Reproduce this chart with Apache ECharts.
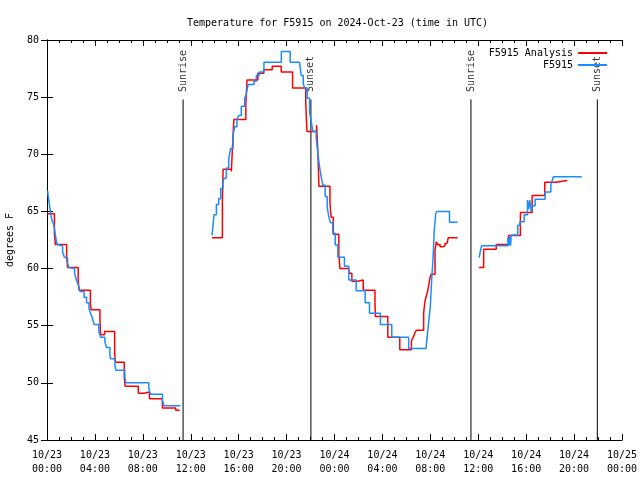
<!DOCTYPE html>
<html><head><meta charset="utf-8">
<script src="https://cdn.jsdelivr.net/npm/echarts@6/dist/echarts.min.js"></script>
<style>html,body{margin:0;padding:0;background:#fff}#c{width:640px;height:480px}</style>
</head><body><div id="c"></div>
<script>
const titleText = 'Temperature for F5915 on 2024-Oct-23 (time in UTC)';
const seriesNames = ['F5915 Analysis', 'F5915'];
const yAxisName = 'degrees F';
const xTickLabels = ['10/23\n00:00','10/23\n04:00','10/23\n08:00','10/23\n12:00','10/23\n16:00','10/23\n20:00',
  '10/24\n00:00','10/24\n04:00','10/24\n08:00','10/24\n12:00','10/24\n16:00','10/24\n20:00','10/25\n00:00'];
const sunEventHours = [11.36, 22.03, 35.39, 45.94];
const sunEventLabels = ['Sunrise', 'Sunset', 'Sunrise', 'Sunset'];
const sunLineTop = 74.8;
const sunLabelBase = 75.45;

// hours since 10/23 00:00 UTC, temperature F
const analysisSeg1 = [[0.0,64.8],[0.62,63.0],[0.7,62.1],[1.64,61.0],[1.72,60.1],[2.6,59.0],[2.68,58.1],[3.62,57.0],[3.68,56.4],
  [4.42,55.5],[4.47,54.2],[4.8,54.5],[5.65,52.5],[5.72,51.8],[6.45,50.5],[6.52,49.7],[7.62,49.1],[8.1,49.2],[8.55,48.6],
  [9.63,47.8],[10.75,47.6],[11.08,47.6]];
const analysisSeg2 = [[13.78,62.7],[14.64,66.0],[14.7,68.7],[15.39,68.5],[15.5,71.0],[15.6,73.05],[16.6,74.5],[16.7,76.5],
  [17.6,77.1],[18.1,77.4],[18.8,77.7],[19.55,77.2],[20.5,75.8],[21.6,74.5],[21.7,72.0],[22.5,72.55],[22.62,70.0],[22.7,67.2],
  [23.62,65.7],[23.72,64.5],[23.9,63.0],[24.36,61.3],[24.45,60.0],[25.2,59.6],[25.45,58.9],[25.94,59.0],[26.4,58.1],
  [27.38,56.8],[27.42,55.8],[28.45,54.0],[29.45,52.9],[30.42,53.7],[30.58,54.0],[30.72,54.4],[30.83,54.6],[31.44,56.1],
  [31.56,57.2],[31.72,57.8],[31.83,58.3],[31.97,59.2],[32.06,59.5],[32.39,61.6],[32.5,62.35],[32.61,62.1],[32.81,61.9],
  [33.03,62.0],[33.22,62.2],[33.39,62.3],[33.5,62.7],[34.28,62.7]];
const analysisSeg3 = [[36.05,60.1],[36.45,61.7],[37.5,62.1],[38.52,62.9],[39.52,64.9],[40.5,66.4],[41.55,67.55],[42.48,67.7],[43.44,67.7]];

const observedSeg1 = [[0.05,66.8],[0.12,66.2],[0.2,65.6],[0.28,65.1],[0.36,64.5],[0.45,64.1],[0.55,63.9],[0.65,63.3],[0.75,62.6],
  [0.85,62.1],[0.95,62.0],[1.3,61.5],[1.44,61.0],[1.6,60.9],[1.72,60.5],[1.82,60.1],[1.95,60.0],[2.3,59.6],[2.45,59.0],
  [2.6,58.6],[2.75,58.0],[3.1,57.5],[3.3,57.0],[3.5,56.5],[3.64,56.1],[3.8,55.6],[3.94,55.1],[4.33,54.5],[4.47,54.0],
  [4.83,53.6],[4.97,53.1],[5.25,52.5],[5.3,52.1],[5.67,51.5],[5.75,51.1],[6.5,50.5],[6.58,50.0],[8.5,49.5],[8.64,49.0],
  [9.64,48.5],[9.75,48.0],[11.14,48.0]];
const observedSeg2 = [[13.78,62.9],[13.94,64.7],[14.14,65.6],[14.33,66.1],[14.5,67.0],[14.69,67.6],[14.78,67.9],[14.97,68.8],
  [15.17,69.65],[15.33,70.5],[15.53,71.7],[15.67,72.4],[15.86,73.0],[16.0,73.4],[16.22,74.2],[16.5,74.9],[16.64,75.25],
  [16.78,76.1],[17.28,76.4],[17.47,76.9],[17.72,77.2],[18.11,78.05],[19.56,79.0],[20.3,78.05],[21.08,77.9],[21.22,76.9],
  [21.39,76.2],[21.5,75.8],[21.72,74.9],[21.92,73.7],[22.06,72.85],[22.19,72.0],[22.33,72.0],[22.47,71.5],[22.61,70.1],
  [22.75,68.9],[22.89,68.0],[23.03,67.3],[23.22,66.3],[23.39,65.4],[23.53,64.5],[23.67,64.0],[23.86,63.1],[24.06,62.06],
  [24.28,61.0],[24.83,60.2],[25.19,59.0],[25.81,58.06],[26.56,57.0],[26.92,56.1],[27.83,55.1],[28.78,54.0],[30.19,53.0],
  [31.64,53.0],[31.78,54.5],[31.89,55.6],[32.0,56.7],[32.11,59.0],[32.22,60.75],[32.33,63.4],[32.45,64.8],[32.56,65.0],
  [33.6,64.05],[34.28,64.05]];
const observedSeg3 = [[36.08,60.95],[36.17,61.5],[36.28,62.0],[38.47,62.7],[38.55,62.0],[38.62,62.8],[38.7,62.0],[38.75,62.94],
  [39.3,63.8],[39.47,64.1],[39.83,64.7],[40.11,66.0],[40.2,65.2],[40.3,66.0],[40.42,65.0],[40.55,65.5],[40.75,66.06],
  [41.58,66.7],[42.06,67.3],[42.19,67.75],[42.28,68.04],[44.64,68.04]];

const GAP = '-';
function joinSegs(segs) {
  const out = [];
  segs.forEach((s, i) => {
    if (i) { const prev = segs[i - 1]; out.push([prev[prev.length - 1][0], GAP]); }
    s.forEach(p => out.push(p));
  });
  return out;
}

const FONT = 'DejaVu Sans Mono';
const chart = echarts.init(document.getElementById('c'), null, { renderer: 'canvas' });

const axisCommonX = {
  type: 'value', min: 0, max: 48, interval: 4,
  axisLine: { show: true, lineStyle: { color: '#000', width: 1 } },
  axisTick: { show: true, inside: true, length: 6, lineStyle: { color: '#000' } },
  minorTick: { show: true, splitNumber: 4, length: 3, lineStyle: { color: '#000' } },
  splitLine: { show: false }, minorSplitLine: { show: false }
};
const axisCommonY = {
  type: 'value', min: 45, max: 80, interval: 5,
  axisLine: { show: true, lineStyle: { color: '#000', width: 1 } },
  axisTick: { show: true, inside: true, length: 6, lineStyle: { color: '#000' } },
  splitLine: { show: false }
};

const sunLineSeries = sunEventHours.map((h, i) => ({
  type: 'line', silent: true, symbol: 'none', animation: false,
  data: [[h, 45], [h, sunLineTop]],
  lineStyle: { color: '#000', width: 1 }, z: 1
}));

const sunLabelSeries = {
  type: 'scatter', silent: true, animation: false, symbolSize: 0,
  data: sunEventHours.map((h, i) => [h, sunLabelBase, sunEventLabels[i]]),
  label: {
    show: true, position: [0, 0], rotate: 90, align: 'left', verticalAlign: 'middle',
    formatter: p => p.data[2], fontFamily: FONT, fontSize: 10, color: '#000'
  }
};

chart.setOption({
  animation: false,
  backgroundColor: '#fff',
  title: { text: titleText, left: 182, top: 13, textStyle: { fontFamily: FONT, fontSize: 10, fontWeight: 'normal', color: '#000' } },
  legend: {
    orient: 'vertical', right: 28, top: 43, align: 'right', itemGap: 2,
    itemWidth: 29, itemHeight: 2, icon: 'rect',
    data: seriesNames,
    textStyle: { fontFamily: FONT, fontSize: 10, color: '#000' }
  },
  grid: { left: 47, right: 18, top: 40, bottom: 40, containLabel: false, outerBoundsMode: 'none' },
  xAxis: [
    Object.assign({}, axisCommonX, { position: 'bottom',
      axisLabel: { color: '#000', fontFamily: FONT, fontSize: 10, lineHeight: 14, margin: 8,
        formatter: v => xTickLabels[Math.round(v / 4)] } }),
    Object.assign({}, axisCommonX, { position: 'top', axisLabel: { show: false } })
  ],
  yAxis: [
    Object.assign({}, axisCommonY, { position: 'left', name: yAxisName, nameLocation: 'middle', nameGap: 32,
      nameTextStyle: { fontFamily: FONT, fontSize: 10, color: '#000' },
      axisLabel: { color: '#000', fontFamily: FONT, fontSize: 10, margin: 8 } }),
    Object.assign({}, axisCommonY, { position: 'right', axisLabel: { show: false } })
  ],
  series: [
    ...sunLineSeries,
    sunLabelSeries,
    { name: seriesNames[0], type: 'line', step: 'end', symbol: 'none', connectNulls: false,
      data: joinSegs([analysisSeg1, analysisSeg2, analysisSeg3]),
      itemStyle: { color: '#ff0000' }, lineStyle: { color: '#ff0000', width: 1.5 }, z: 3 },
    { name: seriesNames[1], type: 'line', step: 'end', symbol: 'none', connectNulls: false,
      data: joinSegs([observedSeg1, observedSeg2, observedSeg3]),
      itemStyle: { color: '#1a8cff' }, lineStyle: { color: '#1a8cff', width: 1.5 }, z: 4 }
  ]
});
</script></body></html>
